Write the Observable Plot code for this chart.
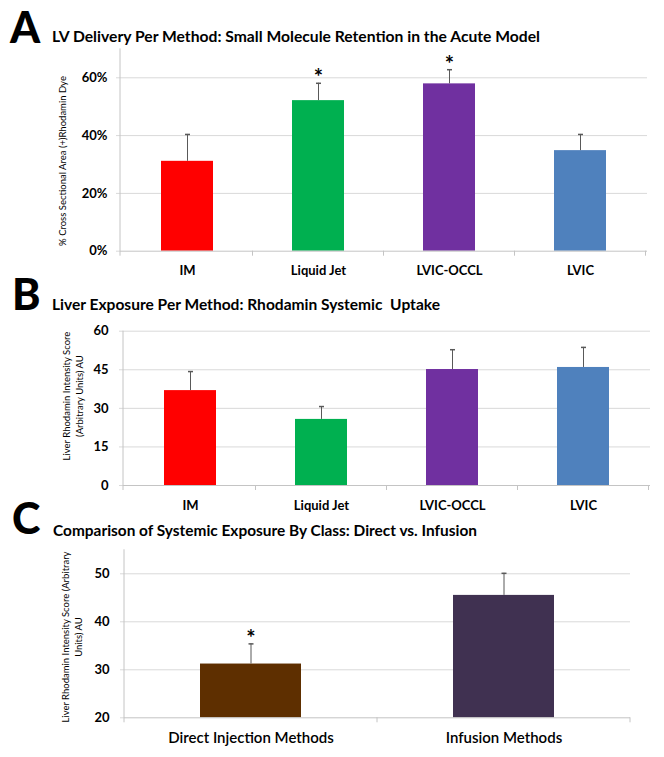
<!DOCTYPE html>
<html>
<head>
<meta charset="utf-8">
<script src="https://cdn.jsdelivr.net/npm/d3@7"></script>
<script src="https://cdn.jsdelivr.net/npm/@observablehq/plot@0.6"></script>
<style>
html, body { margin: 0; padding: 0; background: #fff; }
#fig { position: relative; width: 664px; height: 757px; overflow: hidden; font-family: Lato, "Open Sans", sans-serif; color: #000; }
.panel { position: absolute; left: 0; }
.letter { position: absolute; font-family: Lato, sans-serif; font-weight: 900; font-size: 43px; line-height: 1; }
.title { position: absolute; font-weight: bold; font-size: 15px; white-space: nowrap; line-height: 1; transform-origin: 0 0; }
.ytitle { position: absolute; font-size: 9.5px; white-space: nowrap; text-align: center; line-height: 13px; transform: translate(-50%, -50%) rotate(-90deg); }
</style>
</head>
<body>
<div id="fig">
  <div class="letter" style="left:10px; top:4.5px;">A</div>
  <div class="title" id="tA" style="left:52px; top:29px;">LV Delivery Per Method: Small Molecule Retention in the Acute Model</div>
  <div class="ytitle" style="left:62px; top:161px;">% Cross Sectional Area (+)Rhodamin Dye</div>

  <div class="letter" style="left:12px; top:272px;">B</div>
  <div class="title" id="tB" style="left:52px; top:297px;">Liver Exposure Per Method: Rhodamin Systemic&nbsp; Uptake</div>
  <div class="ytitle" style="left:73px; top:396px;">Liver Rhodamin Intensity Score<br>(Arbitrary Units) AU</div>

  <div class="letter" style="left:12px; top:496px;">C</div>
  <div class="title" id="tC" style="left:53px; top:523px;">Comparison of Systemic Exposure By Class: Direct vs. Infusion</div>
  <div class="ytitle" style="left:72px; top:637px;">Liver Rhodamin Intensity Score (Arbitrary<br>Units) AU</div>
</div>
<script>
// ---------------- data ----------------
const methods = ["IM", "Liquid Jet", "LVIC-OCCL", "LVIC"];
const methodColors = ["#FF0000", "#00B050", "#7030A0", "#4F81BD"];

const lvRetention = [0.311, 0.521, 0.579, 0.348];
const lvRetentionErr = [0.093, 0.060, 0.049, 0.056];
const lvSignificant = [false, true, true, false];
const lvTicks = [0, 0.2, 0.4, 0.6];

const liverScore = [36.9, 25.7, 45.1, 45.9];
const liverScoreErr = [7.4, 5.0, 7.7, 7.8];
const liverSignificant = [false, false, false, false];
const liverTicks = [0, 15, 30, 45, 60];

const classes = ["Direct Injection Methods", "Infusion Methods"];
const classColors = ["#5E2F00", "#403151"];
const classScore = [31.2, 45.5];
const classScoreErr = [4.2, 4.6];
const classSignificant = [true, false];
const classTicks = [20, 30, 40, 50];

// ---------------- panels ----------------
const fig = document.getElementById("fig");
const axisGray = "#c4c4c4";
const gridGray = "#d9d9d9";
const errGray = "#595959";

function barPanel(cfg) {
  const rows = cfg.cats.map((c, i) => ({cat: c, v: cfg.vals[i], hi: cfg.vals[i] + cfg.errs[i], sig: cfg.sig[i]}));
  const base = cfg.yDomain[0];
  const capSymbol = {draw(ctx) { ctx.moveTo(-2.5, 0); ctx.lineTo(2.5, 0); }};
  const chart = Plot.plot({
    width: 664, height: cfg.height,
    marginTop: cfg.mt, marginBottom: cfg.mb, marginLeft: cfg.ml, marginRight: cfg.mr,
    style: {background: "transparent", overflow: "visible", fontFamily: "Lato, 'Open Sans', sans-serif", color: "#000"},
    x: {domain: cfg.cats, paddingInner: 0.6, paddingOuter: 0.3},
    y: {domain: cfg.yDomain},
    color: {domain: cfg.cats, range: cfg.colors},
    marks: [
      Plot.gridY(cfg.ticks.filter(t => t !== base), {stroke: gridGray, strokeOpacity: 1}),
      Plot.axisY(cfg.ticks, {tickSize: 4, tickPadding: cfg.yPad, stroke: gridGray, fill: "#000",
        fontSize: 13, fontWeight: "bold", tickFormat: cfg.fmt, label: null}),
      Plot.axisX({tickSize: 0, tickPadding: cfg.xPad, fill: "#000", fontSize: cfg.xFont,
        fontWeight: cfg.xWeight, label: null}),
      Plot.barY(rows, {x: "cat", y1: () => base, y2: "v", fill: "cat"}),
      Plot.ruleX(rows, {x: "cat", y1: "v", y2: "hi", stroke: errGray, strokeWidth: 1}),
      Plot.dot(rows, {x: "cat", y: "hi", symbol: capSymbol, stroke: errGray, r: 1}),
      Plot.text(rows.filter(d => d.sig), {x: "cat", y: "hi", text: () => "*", dy: -5, fontSize: 22, fontWeight: "bold", fill: "#000"}),
      Plot.ruleY([base], {stroke: axisGray})
    ]
  });
  // y axis line and category boundary ticks, drawn from the chart's own scales
  const xs = chart.scale("x"), ys = chart.scale("y");
  const yb = ys.apply(base), yt = ys.apply(cfg.yDomain[1]);
  const svg = d3.select(chart);
  svg.append("line").attr("x1", cfg.ml).attr("x2", cfg.ml).attr("y1", yt).attr("y2", yb + 5).attr("stroke", axisGray);
  const step = xs.step ?? (xs.range[1] - xs.range[0]) / cfg.cats.length;
  const bw = xs.bandwidth ?? step * 0.4;
  const gap = (step - bw) / 2;
  const bounds = cfg.cats.map(c => xs.apply(c) - gap);
  bounds.push(xs.apply(cfg.cats[cfg.cats.length - 1]) + bw + gap);
  svg.append("g").selectAll("line").data(bounds.slice(1)).join("line")
    .attr("x1", d => d).attr("x2", d => d).attr("y1", yb).attr("y2", yb + 5).attr("stroke", axisGray);
  const holder = document.createElement("div");
  holder.className = "panel";
  holder.style.top = cfg.top + "px";
  holder.appendChild(chart);
  fig.insertBefore(holder, fig.firstChild);
}

barPanel({
  cats: methods, colors: methodColors, vals: lvRetention, errs: lvRetentionErr, sig: lvSignificant,
  yDomain: [0, 0.7], ticks: lvTicks, fmt: d3.format(".0%"),
  top: 40, height: 245, mt: 8.4, mb: 34.3, ml: 120, mr: 17, yPad: 9, xPad: 15, xFont: 13, xWeight: "bold"
});
barPanel({
  cats: methods, colors: methodColors, vals: liverScore, errs: liverScoreErr, sig: liverSignificant,
  yDomain: [0, 60], ticks: liverTicks, fmt: d3.format("d"),
  top: 322, height: 203, mt: 8.7, mb: 40, ml: 123, mr: 14, yPad: 11, xPad: 15, xFont: 13, xWeight: "bold"
});
barPanel({
  cats: classes, colors: classColors, vals: classScore, errs: classScoreErr, sig: classSignificant,
  yDomain: [20, 55], ticks: classTicks, fmt: d3.format("d"),
  top: 541, height: 216, mt: 8.3, mb: 39.7, ml: 124, mr: 34, yPad: 11, xPad: 15, xFont: 15, xWeight: "600"
});

// fit title widths to the reference
const titleWidths = {tA: 488, tB: 388, tC: 424};
for (const [id, w] of Object.entries(titleWidths)) {
  const el = document.getElementById(id);
  const nat = el.getBoundingClientRect().width;
  if (nat > 0) el.style.transform = `scaleX(${w / nat})`;
}
</script>
</body>
</html>
